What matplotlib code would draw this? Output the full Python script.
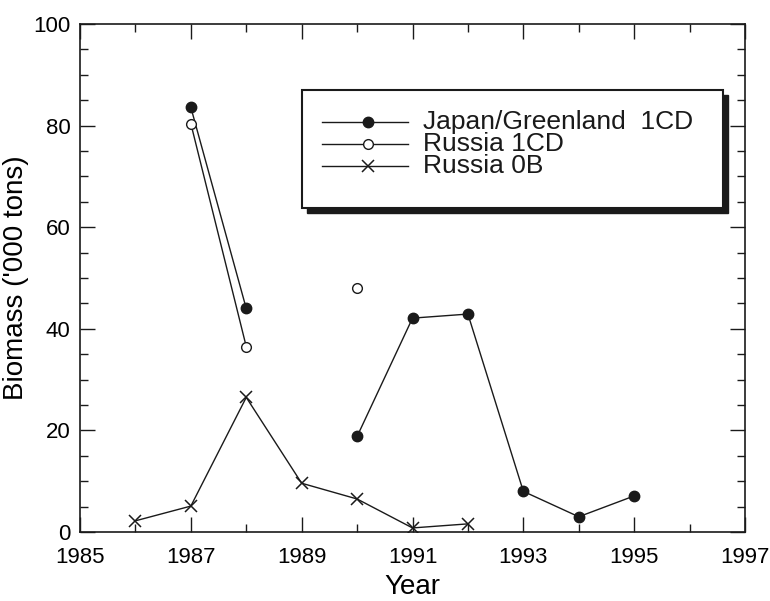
import matplotlib
matplotlib.use("Agg")
import matplotlib.pyplot as plt
import numpy as np
from matplotlib.patches import Rectangle
from matplotlib.ticker import FixedLocator, MultipleLocator

plt.rcParams["font.family"] = ["Liberation Sans", "DejaVu Sans"]

# ── data ───────────────────────────────────────────────────────────────────
years_jg = [1987, 1988, 1989, 1990, 1991, 1992, 1993, 1994, 1995]
japan_greenland_1cd = [83.6, 44.0, np.nan, 18.8, 42.1, 42.9, 8.0, 3.0, 7.1]

years_r1 = [1987, 1988, 1989, 1990]
russia_1cd = [80.4, 36.5, np.nan, 48.0]

years_r0 = [1986, 1987, 1988, 1989, 1990, 1991, 1992]
russia_0b = [2.2, 5.1, 26.5, 9.6, 6.5, 0.8, 1.6]

labels = ["Japan/Greenland  1CD", "Russia 1CD", "Russia 0B"]
year_ticks = [1985, 1987, 1989, 1991, 1993, 1995, 1997]

LC = "#1a1a1a"

fig = plt.figure(figsize=(7.7, 6.01), dpi=100)
ax = fig.add_axes([80/770, 69/601, 665/770, 508/601])

ax.plot(years_jg, japan_greenland_1cd, color=LC, lw=1.0, marker="o",
        ms=7.5, mfc=LC, mec=LC)
ax.plot(years_r1, russia_1cd, color=LC, lw=1.0, marker="o",
        ms=7, mfc="white", mec=LC, mew=1.0)
ax.plot(years_r0, russia_0b, color=LC, lw=1.0, marker="x",
        ms=8, mec=LC, mew=1.1)

ax.set_xlim(1985, 1997)
ax.set_ylim(0, 100)
ax.xaxis.set_major_locator(FixedLocator(year_ticks))
ax.xaxis.set_minor_locator(MultipleLocator(1))
ax.yaxis.set_major_locator(MultipleLocator(20))
ax.yaxis.set_minor_locator(MultipleLocator(5))
ax.tick_params(which="both", direction="in", top=True, right=True,
               color=LC, width=1.0)
ax.tick_params(which="major", length=11, labelsize=16)
ax.tick_params(which="minor", length=5.5)
ax.tick_params(axis="x", which="major", pad=11)
ax.tick_params(axis="y", which="major", pad=7)
for s in ax.spines.values():
    s.set_linewidth(1.2)
    s.set_color(LC)

ax.set_xlabel("Year", fontsize=20, labelpad=4)
ax.set_ylabel("Biomass ('000 tons)", fontsize=20, labelpad=3)

# ── legend box with drop shadow ────────────────────────────────────────────
bx0, by0, bw, bh = 0.334, 0.638, 0.633, 0.232
ax.add_patch(Rectangle((bx0 + 0.008, by0 - 0.01), bw, bh, transform=ax.transAxes,
                       facecolor=LC, edgecolor=LC, zorder=5))
ax.add_patch(Rectangle((bx0, by0), bw, bh, transform=ax.transAxes,
                       facecolor="white", edgecolor=LC, lw=1.5, zorder=6))

rows_y = [0.808, 0.764, 0.721]
styles = [dict(marker="o", ms=7.5, mfc=LC, mec=LC),
          dict(marker="o", ms=7, mfc="white", mec=LC, mew=1.0),
          dict(marker="x", ms=8, mec=LC, mew=1.1)]
for y, lab, st in zip(rows_y, labels, styles):
    ax.plot([0.364, 0.493], [y, y], transform=ax.transAxes, color=LC,
            lw=1.0, zorder=7, clip_on=False)
    ax.plot([0.433], [y], transform=ax.transAxes, color=LC, zorder=8,
            clip_on=False, **st)
    ax.text(0.516, y, lab, transform=ax.transAxes, fontsize=19,
            va="center", ha="left", color=LC, zorder=8)

fig.savefig("out.png", dpi=100, facecolor="white")
